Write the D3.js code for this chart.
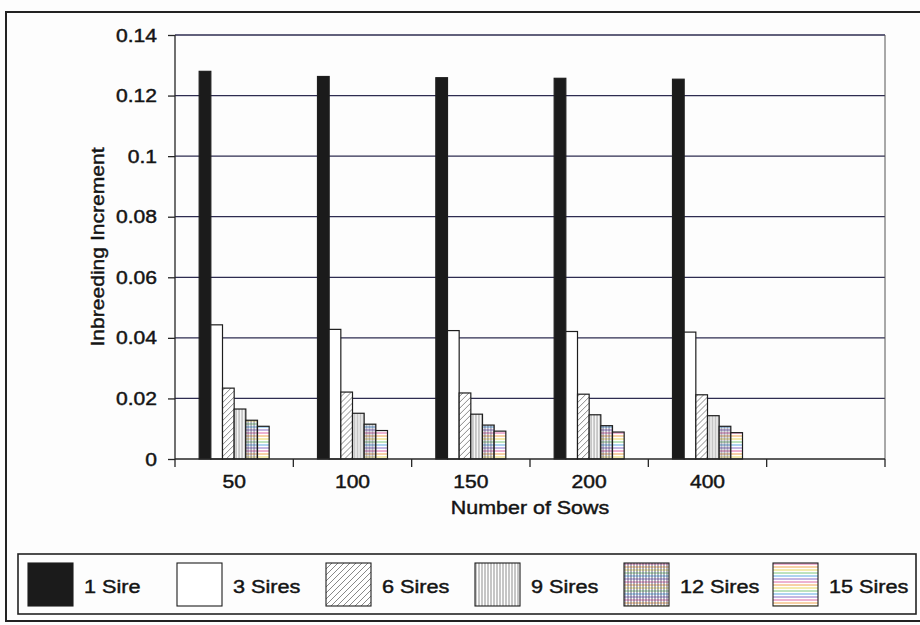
<!DOCTYPE html>
<html>
<head>
<meta charset="utf-8">
<script src="https://cdn.jsdelivr.net/npm/d3@7"></script>
<style>
  html, body { margin: 0; padding: 0; background: #fdfdfd; }
  svg { display: block; }
  text { font-family: "Liberation Sans", Arial, sans-serif; fill: #141414; }
</style>
</head>
<body>
<script>
// Number of sows per group (last slot is an empty category on the axis)
const categories = ["50", "100", "150", "200", "400", ""];
const seriesNames = ["1 Sire", "3 Sires", "6 Sires", "9 Sires", "12 Sires", "15 Sires"];

// Inbreeding increment per sire count, one value per sow group
const sire1  = [0.1280, 0.1263, 0.1259, 0.1257, 0.1254];
const sire3  = [0.0443, 0.0428, 0.0424, 0.0421, 0.0419];
const sire6  = [0.0234, 0.0221, 0.0218, 0.0214, 0.0212];
const sire9  = [0.0165, 0.0151, 0.0148, 0.0146, 0.0143];
const sire12 = [0.0128, 0.0115, 0.0112, 0.0110, 0.0108];
const sire15 = [0.0108, 0.0094, 0.0092, 0.0089, 0.0087];

const yTicks = [0, 0.02, 0.04, 0.06, 0.08, 0.1, 0.12, 0.14];
const yTickLabels = ["0", "0.02", "0.04", "0.06", "0.08", "0.1", "0.12", "0.14"];

const seriesValues = [sire1, sire3, sire6, sire9, sire12, sire15];

const W = 920, H = 625;
const svg = d3.select("body").append("svg").attr("width", W).attr("height", H);
const defs = svg.append("defs");

// ---- fill patterns ----
function pattern(id, w, h) {
  return defs.append("pattern").attr("id", id)
    .attr("patternUnits", "userSpaceOnUse").attr("width", w).attr("height", h);
}
// diagonal hatching
const p6 = pattern("hatch6", 6, 6);
p6.append("rect").attr("width", 6).attr("height", 6).attr("fill", "#fff");
p6.append("path").attr("d", "M0,6 L6,0 M-1,1 L1,-1 M5,7 L7,5")
  .attr("stroke", "#6a6a6a").attr("stroke-width", 0.8);
// vertical lines
const p9 = pattern("vert9", 3, 3);
p9.append("rect").attr("width", 3).attr("height", 3).attr("fill", "#fff");
p9.append("line").attr("x1", 1).attr("x2", 1).attr("y1", 0).attr("y2", 3)
  .attr("stroke", "#5a5a5a").attr("stroke-width", 0.7);
// coloured horizontal rules
const ruleColors = ["#d8559a", "#ee9a3a", "#e6d04a", "#6cc06c", "#4a9ee0", "#7a5cc0"];
const p15 = pattern("horiz15", 4, 18);
p15.append("rect").attr("width", 4).attr("height", 18).attr("fill", "#fff");
ruleColors.forEach((c, i) => p15.append("line")
  .attr("x1", 0).attr("x2", 4).attr("y1", i * 3 + 1).attr("y2", i * 3 + 1)
  .attr("stroke", c).attr("stroke-width", 0.9));
// grid: coloured rules plus vertical lines
const p12 = pattern("grid12", 3, 18);
p12.append("rect").attr("width", 3).attr("height", 18).attr("fill", "#fff");
ruleColors.forEach((c, i) => p12.append("line")
  .attr("x1", 0).attr("x2", 3).attr("y1", i * 3 + 1).attr("y2", i * 3 + 1)
  .attr("stroke", c).attr("stroke-width", 0.9));
p12.append("line").attr("x1", 1).attr("x2", 1).attr("y1", 0).attr("y2", 18)
  .attr("stroke", "#3e3e5a").attr("stroke-width", 0.8);

const fills = ["#1b1b1b", "#ffffff", "url(#hatch6)", "url(#vert9)", "url(#grid12)", "url(#horiz15)"];

// ---- outer frame ----
svg.append("rect").attr("x", 6).attr("y", 12).attr("width", 930).attr("height", 609)
  .attr("fill", "none").attr("stroke", "#222").attr("stroke-width", 2);

// ---- scales ----
const plot = { left: 175, right: 885, top: 35, bottom: 459 };
const x0 = d3.scaleBand().domain(categories).range([plot.left, plot.right]);
const groupW = 70;
const x1 = d3.scaleBand().domain(seriesNames).range([0, groupW]);
const y = d3.scaleLinear().domain([0, 0.14]).range([plot.bottom, plot.top]);

// gridlines
svg.append("g").selectAll("line").data(yTicks.filter(d => d > 0)).join("line")
  .attr("x1", plot.left).attr("x2", plot.right)
  .attr("y1", d => y(d)).attr("y2", d => y(d))
  .attr("stroke", "#2e2c50").attr("stroke-width", 1.3);

// right frame edge
svg.append("line").attr("x1", plot.right).attr("x2", plot.right)
  .attr("y1", plot.top).attr("y2", plot.bottom)
  .attr("stroke", "#555").attr("stroke-width", 1);

// ---- bars ----
const groups = svg.append("g").selectAll("g")
  .data(categories.slice(0, 5)).join("g")
  .attr("transform", c => `translate(${x0(c) + (x0.bandwidth() - groupW) / 2},0)`);
groups.selectAll("rect")
  .data((c, gi) => seriesNames.map((s, si) => ({ s, si, v: seriesValues[si][gi] })))
  .join("rect")
  .attr("x", d => x1(d.s)).attr("width", x1.bandwidth())
  .attr("y", d => y(d.v)).attr("height", d => y(0) - y(d.v))
  .attr("fill", d => fills[d.si])
  .attr("stroke", "#1e1e1e").attr("stroke-width", 1.2);

// ---- axes ----
const yAxis = svg.append("g").attr("transform", `translate(${plot.left},0)`)
  .call(d3.axisLeft(y).tickValues(yTicks).tickSize(7).tickFormat(""));
const xAxis = svg.append("g").attr("transform", `translate(0,${plot.bottom})`)
  .call(d3.axisBottom(x0).tickSize(0).tickFormat(""));
[yAxis, xAxis].forEach(a => {
  a.selectAll("path,line").attr("stroke", "#262626").attr("stroke-width", 1.3);
});
yAxis.select(".domain").attr("d", `M0,${plot.top}V${plot.bottom}`);
xAxis.select(".domain").attr("d", `M${plot.left},0H${plot.right}`);
// x ticks at band boundaries
const boundaries = categories.map(c => x0(c)).concat([plot.right]);
xAxis.selectAll(".bound").data(boundaries).join("line").attr("class", "bound")
  .attr("x1", d => d).attr("x2", d => d).attr("y1", 0).attr("y2", 8)
  .attr("stroke", "#262626").attr("stroke-width", 1.3);

const SX = 1.14;
function label(g, x, yPos, txt, anchor, size, rot) {
  return g.append("text")
    .attr("transform", `translate(${x},${yPos}) rotate(${rot || 0}) scale(${SX},1)`)
    .attr("text-anchor", anchor).attr("font-size", size)
    .attr("stroke", "#141414").attr("stroke-width", 0.45)
    .text(txt);
}

yTicks.forEach((t, i) => label(svg, 157, y(t) + 6.5, yTickLabels[i], "end", 18.5));
categories.forEach(c => { if (c) label(svg, x0(c) + x0.bandwidth() / 2, 488, c, "middle", 18.5); });
label(svg, 530, 514, "Number of Sows", "middle", 18.8);
label(svg, 104, 247, "Inbreeding Increment", "middle", 18.5, -90);

// ---- legend ----
svg.append("rect").attr("x", 18).attr("y", 554).attr("width", 898).attr("height", 60)
  .attr("fill", "none").attr("stroke", "#222").attr("stroke-width", 1.6);
const legendX = d3.scalePoint().domain(seriesNames).range([28, 773]);
const leg = svg.append("g").selectAll("g").data(seriesNames).join("g")
  .attr("transform", d => `translate(${legendX(d)},563)`);
leg.append("rect").attr("width", 45).attr("height", 43)
  .attr("fill", (d, i) => fills[i]).attr("stroke", "#1e1e1e").attr("stroke-width", 1.1);
leg.each(function (d) { label(d3.select(this), 56, 30, d, "start", 19); });
</script>
</body>
</html>
